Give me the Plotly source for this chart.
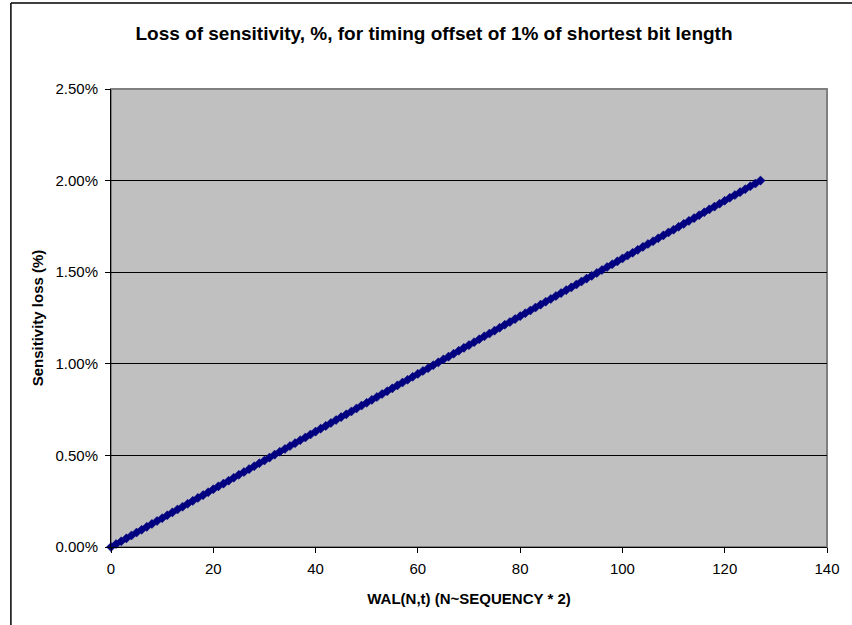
import plotly.graph_objects as go

wal_n = list(range(0, 128))
loss_pct = [
    0.000, 0.016, 0.031, 0.047, 0.063, 0.079, 0.094, 0.110, 0.126, 0.142,
    0.157, 0.173, 0.189, 0.205, 0.220, 0.236, 0.252, 0.268, 0.283, 0.299,
    0.315, 0.331, 0.346, 0.362, 0.378, 0.394, 0.409, 0.425, 0.441, 0.457,
    0.472, 0.488, 0.504, 0.520, 0.535, 0.551, 0.567, 0.583, 0.598, 0.614,
    0.630, 0.646, 0.661, 0.677, 0.693, 0.709, 0.724, 0.740, 0.756, 0.772,
    0.787, 0.803, 0.819, 0.835, 0.850, 0.866, 0.882, 0.898, 0.913, 0.929,
    0.945, 0.961, 0.976, 0.992, 1.008, 1.024, 1.039, 1.055, 1.071, 1.087,
    1.102, 1.118, 1.134, 1.150, 1.165, 1.181, 1.197, 1.213, 1.228, 1.244,
    1.260, 1.276, 1.291, 1.307, 1.323, 1.339, 1.354, 1.370, 1.386, 1.402,
    1.417, 1.433, 1.449, 1.465, 1.480, 1.496, 1.512, 1.528, 1.543, 1.559,
    1.575, 1.591, 1.606, 1.622, 1.638, 1.654, 1.669, 1.685, 1.701, 1.717,
    1.732, 1.748, 1.764, 1.780, 1.795, 1.811, 1.827, 1.843, 1.858, 1.874,
    1.890, 1.906, 1.921, 1.937, 1.953, 1.969, 1.984, 2.000,
]
loss_frac = [v / 100 for v in loss_pct]

title_text = "Loss of sensitivity, %, for timing offset of 1% of shortest bit length"
x_title = "WAL(N,t) (N~SEQUENCY * 2)"
y_title = "Sensitivity loss (%)"

FONT = "Liberation Sans, Arial, sans-serif"

fig = go.Figure()
fig.add_trace(go.Scatter(
    x=wal_n, y=loss_frac, mode="markers",
    marker=dict(symbol="diamond", size=7, color="#000080",
                line=dict(color="#000080", width=0.5)),
    showlegend=False, cliponaxis=False,
))

fig.update_layout(
    width=852, height=625,
    margin=dict(l=111, r=15, t=89, b=78),
    paper_bgcolor="white", plot_bgcolor="#C0C0C0",
    font=dict(family=FONT, size=15, color="black"),
    title=dict(text="<b>" + title_text + "</b>", x=434 / 852, xanchor="center",
               y=1 - 33 / 625, yanchor="middle",
               font=dict(family=FONT, size=19, color="black")),
    xaxis=dict(range=[0, 140], tick0=0, dtick=20, showgrid=False, zeroline=False,
               showline=True, linecolor="black", linewidth=1,
               ticks="outside", ticklen=5, tickcolor="black",
               tickfont=dict(size=15), ticklabelstandoff=3,
               title=dict(text="<b>" + x_title + "</b>", font=dict(size=15), standoff=17)),
    yaxis=dict(range=[0, 0.025], tick0=0, dtick=0.005, tickformat=".2%",
               showgrid=True, gridcolor="black", gridwidth=1, zeroline=False,
               showline=True, linecolor="black", linewidth=1,
               ticks="outside", ticklen=5, tickcolor="black",
               tickfont=dict(size=15), ticklabelstandoff=4,
               title=dict(text="<b>" + y_title + "</b>", font=dict(size=15), standoff=8)),
)

# plot area border (gray)
fig.add_shape(type="rect", xref="paper", yref="paper", x0=0, y0=0, x1=1, y1=1,
              line=dict(color="#808080", width=2), layer="below")
# outer chart border (left and top edges visible)
fig.add_shape(type="line", xref="paper", yref="paper",
              x0=(9.5 - 111) / 726, x1=(9.5 - 111) / 726,
              y0=(547 - 640) / 458, y1=(547 - 3) / 458,
              line=dict(color="black", width=1.5))
fig.add_shape(type="line", xref="paper", yref="paper",
              x0=(9.5 - 111) / 726, x1=(870 - 111) / 726,
              y0=(547 - 3) / 458, y1=(547 - 3) / 458,
              line=dict(color="black", width=1.5))

fig.write_html("out.html", config={"displayModeBar": False},
               post_script="document.body.style.margin='0';")
